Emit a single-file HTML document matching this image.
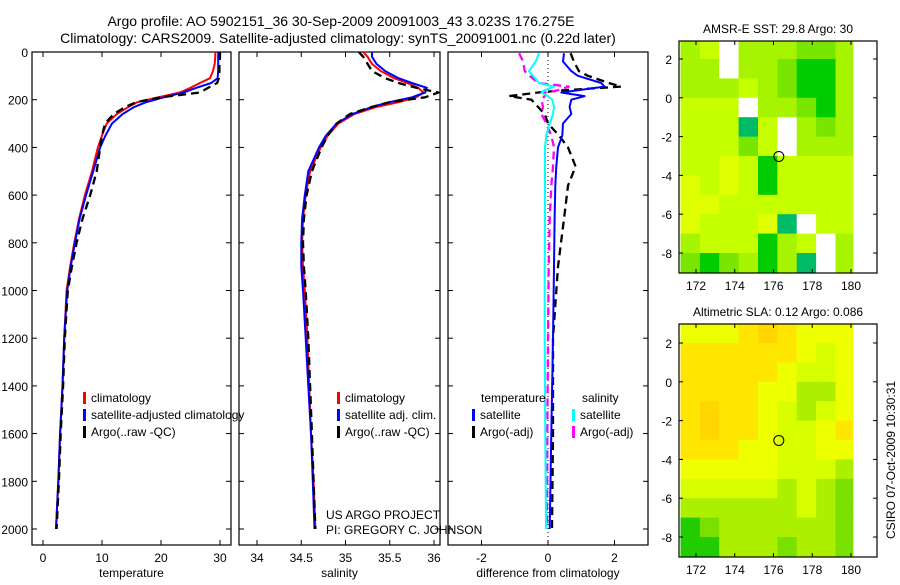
<!DOCTYPE html>
<html><head><meta charset="utf-8">
<style>
html,body{margin:0;padding:0;background:#fff;}
body{width:900px;height:580px;overflow:hidden;font-family:"Liberation Sans",sans-serif;}
svg text{font-family:"Liberation Sans",sans-serif;fill:#000;}
</style></head>
<body>
<svg id="fig" width="900" height="580" viewBox="0 0 900 580" xmlns="http://www.w3.org/2000/svg">
<text x="341" y="26" font-size="14" text-anchor="middle">Argo profile: AO 5902151_36 30-Sep-2009 20091003_43 3.023S 176.275E</text>
<text x="338" y="43" font-size="14" text-anchor="middle">Climatology: CARS2009. Satellite-adjusted climatology: synTS_20091001.nc (0.22d later)</text>
<g id="layer"></g>
</svg>
<script>
// ---------- data ----------
const depth = [0,20,50,80,110,130,150,170,190,210,230,260,300,350,400,500,600,700,800,900,1000,1200,1400,1600,1800,2000];
const tempClim = [29.2,29.2,29.1,28.8,28.3,26.6,25.0,23.2,19.5,16.0,14.5,12.5,10.8,10.0,9.3,8.3,7.1,6.1,5.3,4.6,4.0,3.6,3.3,2.9,2.6,2.2];
const tempSat  = [29.7,29.7,29.7,29.7,29.6,28.5,26.0,23.8,20.5,17.5,15.5,13.5,11.7,10.6,9.7,8.5,7.3,6.2,5.4,4.7,4.1,3.6,3.3,2.9,2.6,2.2];
const tempArgo = [30.0,30.0,29.9,29.9,29.8,29.5,28.0,26.6,20.0,15.8,14.0,12.0,10.5,10.0,9.7,9.1,8.0,6.7,5.7,4.9,4.2,3.7,3.4,3.0,2.7,2.3];
const salClim = [35.2,35.25,35.3,35.4,35.55,35.7,35.82,35.88,35.8,35.6,35.35,35.1,34.92,34.8,34.72,34.6,34.55,34.52,34.51,34.52,34.54,34.57,34.59,34.61,34.64,34.66];
const salSat  = [35.3,35.3,35.35,35.45,35.6,35.75,35.92,35.9,35.75,35.5,35.3,35.08,34.9,34.78,34.7,34.58,34.54,34.51,34.5,34.5,34.52,34.55,34.58,34.61,34.63,34.65];
const salArgo = [35.15,35.2,35.25,35.3,35.45,35.6,35.8,36.05,35.9,35.5,35.3,35.05,34.9,34.8,34.73,34.62,34.56,34.53,34.52,34.53,34.55,34.58,34.6,34.62,34.64,34.66];
const diffDepth = [5,40,80,100,130,145,160,170,185,200,230,260,300,350,400,480,560,700,900,1200,1600,2000];
const dTempSat  = [0.48,0.45,0.7,0.9,1.6,1.7,0.9,0.4,1.1,0.7,0.65,0.7,0.45,0.43,0.3,0.25,0.22,0.2,0.18,0.15,0.1,0.05];
const dTempArgo = [0.68,0.78,0.93,1.2,1.83,2.2,0.5,-0.3,-1.17,-0.5,-0.3,-0.1,0.0,0.33,0.6,0.83,0.6,0.48,0.3,0.15,0.15,0.12];
const dSalSat   = [-0.27,-0.37,-0.57,-0.45,-0.27,0.18,-0.1,-0.2,0.0,0.13,0.18,0.15,0.05,-0.05,-0.09,-0.09,-0.09,-0.09,-0.1,-0.1,-0.08,-0.06];
const dSalArgo  = [-0.87,-0.75,-0.7,-0.55,-0.3,0.63,0.3,-0.1,-0.1,-0.2,-0.15,-0.2,-0.05,0.1,0.18,0.15,0.1,0.05,0.02,0.0,-0.02,-0.03];
const depthTicks = [0,200,400,600,800,1000,1200,1400,1600,1800,2000];
const tempTicks = [0,10,20,30];
const salTicks = [34,34.5,35,35.5,36];
const salTickLabels = ["34","34.5","35","35.5","36"];
const diffTicks = [-2,0,2];
// map grids: rows lat 3..-9 (1 deg), cols lon 171.2..180.2
const sstGrid = [
[2,1,7,2,2,2,3,3,2],
[2,2,7,2,2,3,4,4,2],
[2,2,2,1,2,3,4,4,2],
[1,1,1,7,2,2,3,4,2],
[1,1,1,5,1,7,2,3,2],
[1,1,1,3,1,7,2,2,2],
[1,1,0,1,4,1,1,1,1],
[0,1,0,1,4,1,1,1,1],
[0,0,1,1,1,1,1,1,1],
[0,1,1,1,0,5,7,1,1],
[2,1,1,1,4,2,1,7,2],
[3,4,3,2,4,2,5,7,2]];
const slaGrid = [
[2,2,2,1,0,1,2,2,2],
[1,1,1,1,1,1,2,3,2],
[1,1,1,1,1,2,3,3,2],
[1,1,1,1,2,2,4,4,2],
[1,0,1,1,2,3,4,3,2],
[1,0,1,1,2,3,3,2,1],
[1,1,1,2,2,3,3,2,2],
[2,2,2,2,2,3,3,3,4],
[3,3,3,3,3,4,3,4,5],
[4,4,4,4,4,4,3,4,5],
[6,5,4,4,4,4,4,4,5],
[6,6,4,4,4,5,4,4,5]];
const sstColors = ["#e0ff00","#c6ff00","#a6f400","#78e600","#00cc00","#00bb66","#0044cc","#ffffff"];
const slaColors = ["#ffd600","#ffe600","#eeff00","#d8ff00","#acf000","#7ae000","#22cc00"];
const lonTicks = [172,174,176,178,180];
const latTicks = [2,0,-2,-4,-6,-8];
const floatPos = [176.275,-3.023];

// ---------- helpers ----------
const NS="http://www.w3.org/2000/svg";
const L=document.getElementById('layer');
function mk(tag,attrs,parent){const e=document.createElementNS(NS,tag);for(const k in attrs)e.setAttribute(k,attrs[k]);(parent||L).appendChild(e);return e;}
function txt(x,y,s,size,anchor,parent){const t=mk('text',{x:x,y:y,'font-size':size,'text-anchor':anchor||'start'},parent);t.textContent=s;return t;}
const top0=52, bot=545;
function yD(d){return top0+d*0.2385;}

function panel(name,x0,x1,xs,ticks,labels,title,showY){
  const g=mk('g',{});
  
  
  const r=mk('rect',{x:x0,y:top0,width:x1-x0,height:bot-top0,fill:'none',stroke:'#000','stroke-width':1.2},g);
  
  
  ticks.forEach((v,i)=>{const x=xs(v);
    mk('line',{x1:x,y1:bot,x2:x,y2:bot-5,stroke:'#000'},g);
    mk('line',{x1:x,y1:top0,x2:x,y2:top0+5,stroke:'#000'},g);
    const t=txt(x,562,labels[i],12,'middle',g);
    
    
  });
  depthTicks.forEach(d=>{const y=yD(d);
    mk('line',{x1:x0,y1:y,x2:x0+5,y2:y,stroke:'#000'},g);
    mk('line',{x1:x1,y1:y,x2:x1-5,y2:y,stroke:'#000'},g);
    if(showY){const t=txt(28,y+5,String(d),12,'end',g);
      
      }
  });
  const t=txt((x0+x1)/2,577,title,12,'middle',g);
  
  
  return g;
}
function line(name,xs,vals,ds,color,dash,w){
  const pts=vals.map((v,i)=>xs(v).toFixed(1)+','+yD(ds[i]).toFixed(1)).join(' ');
  const p=mk('polyline',{points:pts,fill:'none',stroke:color,'stroke-width':w||2,'stroke-dasharray':dash||'none','stroke-linejoin':'round'});
  
  
}
function legend(name,x,y,color,label){
  const g=mk('g',{});
  
  
  mk('rect',{x:x,y:y-10,width:3,height:12,fill:color},g);
  txt(x+8,y,label,12,'start',g);
}

// ---------- panels ----------
const xT=v=>43+v*5.9;
const xS=v=>257+(v-34)*88.5;
const xDf=v=>548+v*33.25;
panel('temperature',32,231,xT,tempTicks,tempTicks.map(String),'temperature',true);
panel('salinity',239,440,xS,salTicks,salTickLabels,'salinity',false);
panel('difference',448,648,xDf,diffTicks,diffTicks.map(String),'difference from climatology',false);

line('temp-climatology-line',xT,tempClim,depth,'#ff0000');
line('temp-satellite-line',xT,tempSat,depth,'#0000ff');
line('temp-argo-line',xT,tempArgo,depth,'#000','8,5',2.3);
line('sal-climatology-line',xS,salClim,depth,'#ff0000');
line('sal-satellite-line',xS,salSat,depth,'#0000ff');
line('sal-argo-line',xS,salArgo,depth,'#000','8,5',2.3);
const z=mk('line',{x1:xDf(0),y1:top0,x2:xDf(0),y2:bot,stroke:'#000','stroke-dasharray':'1,3'});


line('diff-temp-argo-line',xDf,dTempArgo,diffDepth,'#000','8,5',2.3);
line('diff-temp-satellite-line',xDf,dTempSat,diffDepth,'#0000ff');
line('diff-sal-argo-line',xDf,dSalArgo,diffDepth,'#ff00ff','8,5',2.3);
line('diff-sal-satellite-line',xDf,dSalSat,diffDepth,'#00ffff');

legend('legend-temp-climatology',83,402,'#ff0000','climatology');
legend('legend-temp-satellite',83,419,'#0000ff','satellite-adjusted climatology');
legend('legend-temp-argo',83,436,'#000','Argo(..raw -QC)');
legend('legend-sal-climatology',337,402,'#ff0000','climatology');
legend('legend-sal-satellite',337,419,'#0000ff','satellite adj. clim.');
legend('legend-sal-argo',337,436,'#000','Argo(..raw -QC)');
let t=txt(481,402,'temperature',12);  
t=txt(582,402,'salinity',12);  
legend('legend-diff-temp-satellite',472,419,'#0000ff','satellite');
legend('legend-diff-temp-argo',472,436,'#000','Argo(-adj)');
legend('legend-diff-sal-satellite',572,419,'#00ffff','satellite');
legend('legend-diff-sal-argo',572,436,'#ff00ff','Argo(-adj)');
t=txt(326,519,'US ARGO PROJECT',12);  
t=txt(326,534,'PI: GREGORY C. JOHNSON',12);  

// ---------- maps ----------
function map(name,boxTop,boxBot,y2,yM8,grid,colors,title){
  const g=mk('g',{});
  
  
  const bx0=679,bx1=877;
  const lonX=lon=>696+(lon-172)*(851-696)/8;
  const latY=lat=>y2+(2-lat)*(yM8-y2)/10;
  grid.forEach((row,r)=>row.forEach((v,c)=>{
    const x=lonX(171.2+c), y=latY(3-r);
    const xe=Math.min(lonX(172.2+c),lonX(180.1)), ye=Math.min(latY(2-r),boxBot);
    const ys=Math.max(y,boxTop);
    const cell=mk('rect',{x:x.toFixed(1),y:ys.toFixed(1),width:(xe-x+0.5).toFixed(1),height:(ye-ys+0.5).toFixed(1),fill:colors[v]},g);
    
    
  }));
  const b=mk('rect',{x:bx0,y:boxTop,width:bx1-bx0,height:boxBot-boxTop,fill:'none',stroke:'#000','stroke-width':1.2},g);
  
  
  lonTicks.forEach(lon=>{const x=lonX(lon);
    mk('line',{x1:x,y1:boxBot,x2:x,y2:boxBot-4,stroke:'#000'},g);
    mk('line',{x1:x,y1:boxTop,x2:x,y2:boxTop+4,stroke:'#000'},g);
    const tt=txt(x,boxBot+17,String(lon),12,'middle',g);
    
    });
  latTicks.forEach(lat=>{const y=latY(lat);
    mk('line',{x1:bx0,y1:y,x2:bx0+4,y2:y,stroke:'#000'},g);
    mk('line',{x1:bx1,y1:y,x2:bx1-4,y2:y,stroke:'#000'},g);
    const tt=txt(bx0-7,y+5,String(lat),12,'end',g);
    
    });
  const c=mk('circle',{cx:lonX(floatPos[0]),cy:latY(floatPos[1]),r:5,fill:'none',stroke:'#000'},g);
  
  
  const tt=txt(778,boxTop-8,title,12,'middle',g);
  
  
}
map('sst-map',41,273,59,253,sstGrid,sstColors,'AMSR-E SST: 29.8 Argo: 30');
map('sla-map',324,557,343,537,slaGrid,slaColors,'Altimetric SLA: 0.12 Argo: 0.086');
t=txt(0,0,'CSIRO 07-Oct-2009 10:30:31',12,'middle');
t.setAttribute('transform','translate(895,460) rotate(-90)');


</script>
</body></html>
